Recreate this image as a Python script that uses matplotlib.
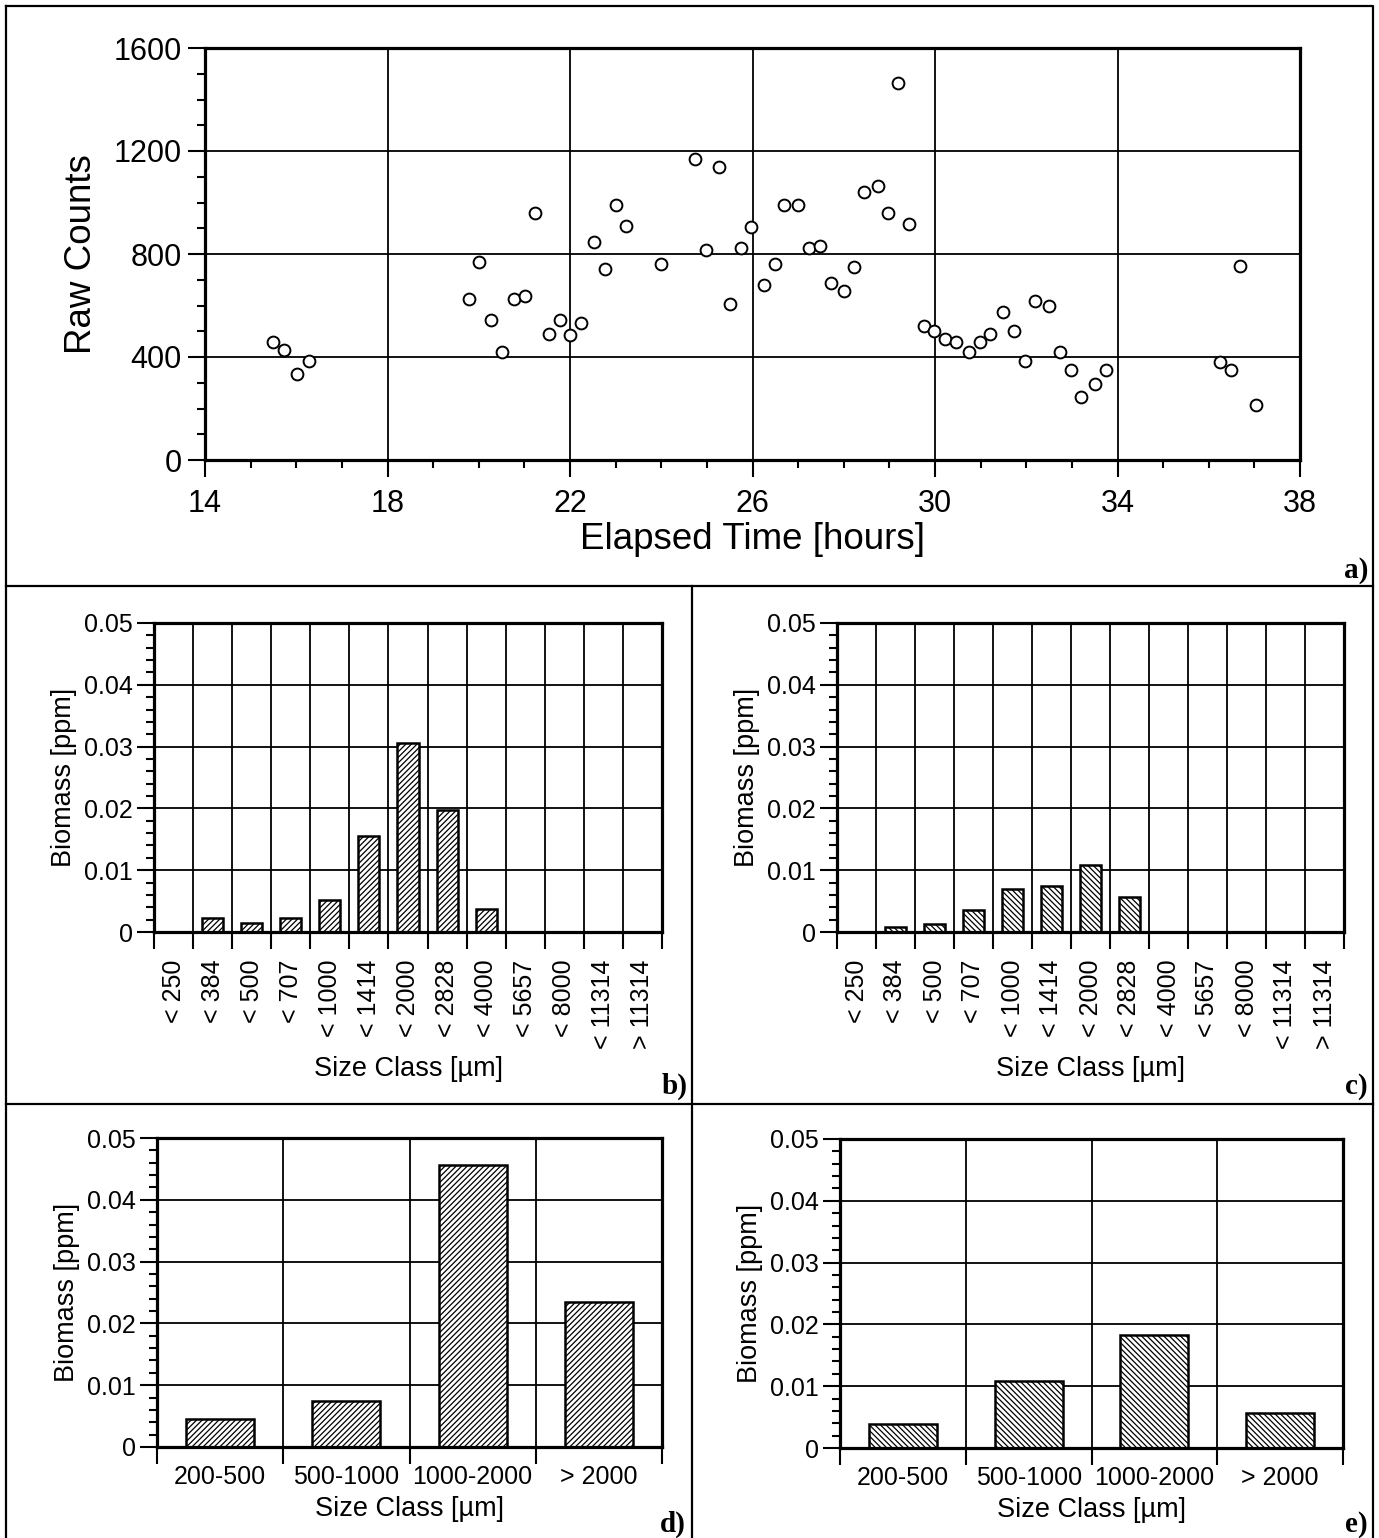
import matplotlib
matplotlib.use("Agg")
import matplotlib.pyplot as plt
from matplotlib.ticker import MultipleLocator
import numpy as np

# ─── Canvas ───────────────────────────────────────────────────────────────────
DPI = 100
W, H = 1379, 1538

plt.rcParams["font.family"] = ["Liberation Sans", "DejaVu Sans"]
plt.rcParams["hatch.linewidth"] = 0.9

# ─── Data: panel a (raw counts vs time) ───────────────────────────────────────
elapsed_h = [
    15.48, 15.73, 16.02, 16.27,
    19.78, 20.01, 20.26, 20.51, 20.77, 21.01, 21.24, 21.55, 21.78, 22.01,
    22.24, 22.53, 22.77, 23.00, 23.23, 24.00, 24.75, 24.98, 25.27, 25.51,
    25.74, 25.97, 26.25, 26.49, 26.70, 26.99, 27.23, 27.47, 27.71, 28.01,
    28.22, 28.45, 28.74, 28.97, 29.18, 29.44, 29.75, 29.98, 30.23, 30.47,
    30.75, 30.99, 31.21, 31.49, 31.73, 31.97, 32.20, 32.49, 32.74, 32.97,
    33.21, 33.50, 33.74, 36.25, 36.48, 36.69, 37.03,
]
raw_counts = [
    458, 428, 335, 386,
    625, 770, 542, 418, 626, 636, 958, 490, 544, 484,
    533, 845, 743, 990, 908, 762, 1168, 814, 1137, 604,
    824, 906, 680, 762, 991, 991, 824, 833, 688, 655,
    750, 1042, 1064, 958, 1463, 917, 521, 500, 470, 460,
    421, 460, 491, 576, 502, 386, 618, 597, 420, 348,
    244, 296, 348, 382, 350, 755, 215,
]
time_ticks = [14, 18, 22, 26, 30, 34, 38]
count_ticks = [0, 400, 800, 1200, 1600]

# ─── Data: panels b, c (fine size classes) ───────────────────────────────────
fine_classes = ["< 250", "< 384", "< 500", "< 707", "< 1000", "< 1414",
                "< 2000", "< 2828", "< 4000", "< 5657", "< 8000",
                "< 11314", "> 11314"]
biomass_b = [0.0, 0.0023, 0.0014, 0.0023, 0.0052, 0.0156, 0.0306,
             0.0197, 0.0038, 0.0, 0.0, 0.0, 0.0]
biomass_c = [0.0, 0.0008, 0.0013, 0.0036, 0.0070, 0.0074, 0.0108,
             0.0057, 0.0, 0.0, 0.0, 0.0, 0.0]

# ─── Data: panels d, e (coarse size classes) ─────────────────────────────────
coarse_classes = ["200-500", "500-1000", "1000-2000", "> 2000"]
biomass_d = [0.0045, 0.0074, 0.0457, 0.0234]
biomass_e = [0.0039, 0.0108, 0.0183, 0.0056]

biomass_ticks = [0, 0.01, 0.02, 0.03, 0.04, 0.05]
biomass_tick_labels = ["0", "0.01", "0.02", "0.03", "0.04", "0.05"]

# ─── Styles ───────────────────────────────────────────────────────────────────
SPINE_LW = 2.3
GRID_LW = 1.3
LETTER_FONT = dict(family=["Liberation Serif", "DejaVu Serif"],
                   fontweight="bold", fontsize=21)


def px_axes(fig, left, top, right, bottom):
    """Axes from pixel box (0,0 = top-left)."""
    return fig.add_axes([left / W, 1 - bottom / H,
                         (right - left) / W, (bottom - top) / H])


def style_spines(ax):
    for s in ax.spines.values():
        s.set_linewidth(SPINE_LW)
        s.set_zorder(5)


def bar_panel(ax, labels, values, hatch, rotate):
    n = len(labels)
    x = np.arange(n)
    ax.bar(x, values, width=0.54, facecolor="white", edgecolor="black",
           linewidth=1.8, hatch=hatch, zorder=3)
    ax.set_xlim(-0.5, n - 0.5)
    ax.set_ylim(0, 0.05)
    ax.yaxis.set_minor_locator(MultipleLocator(0.002))
    ax.set_yticks(biomass_ticks)
    ax.set_yticklabels(biomass_tick_labels)
    # boundaries carry the tick marks, centres carry the labels
    ax.set_xticks(np.arange(n + 1) - 0.5)
    ax.set_xticklabels([""] * (n + 1))
    ax.set_xticks(x, minor=True)
    if rotate:
        ax.set_xticklabels(labels, minor=True, rotation=90, va="top")
        ax.tick_params(axis="x", which="minor", length=0, pad=20)
    else:
        ax.set_xticklabels(labels, minor=True)
        ax.tick_params(axis="x", which="minor", length=0, pad=13)
    ax.tick_params(axis="x", which="major", length=12, width=1.5,
                   direction="out")
    ax.tick_params(axis="y", which="major", length=12, width=1.5,
                   direction="out", pad=3)
    ax.tick_params(axis="y", which="minor", length=6, width=1.5,
                   direction="out")
    ax.tick_params(axis="both", which="both", labelsize=18)
    ax.grid(True, which="major", color="black", linewidth=GRID_LW, zorder=1)
    ax.set_axisbelow(True)
    ax.set_ylabel("Biomass [ppm]", fontsize=19.5, labelpad=5)
    ax.set_xlabel("Size Class [µm]", fontsize=19.5, labelpad=5)
    style_spines(ax)


fig = plt.figure(figsize=(W / DPI, H / DPI), dpi=DPI)
fig.patch.set_facecolor("white")

# Background axes in pixel coordinates for frame lines and panel letters
bg = fig.add_axes([0, 0, 1, 1], zorder=-10)
bg.set_xlim(0, W)
bg.set_ylim(H, 0)
bg.axis("off")
frame = dict(color="black", linewidth=1.6)
bg.plot([6, 1373, 1373, 6, 6], [6, 6, H + 5, H + 5, 6], **frame)
bg.plot([6, 1373], [586, 586], **frame)
bg.plot([6, 1373], [1104, 1104], **frame)
bg.plot([692, 692], [586, H + 5], **frame)

bg.text(1368, 578, "a)", ha="right", va="baseline", **LETTER_FONT)
bg.text(688, 1094, "b)", ha="right", va="baseline", **LETTER_FONT)
bg.text(1368, 1094, "c)", ha="right", va="baseline", **LETTER_FONT)
bg.text(686, 1532, "d)", ha="right", va="baseline", **LETTER_FONT)
bg.text(1368, 1532, "e)", ha="right", va="baseline", **LETTER_FONT)

# ─── Panel a ─────────────────────────────────────────────────────────────────
ax_a = px_axes(fig, 205, 48, 1300, 460)
ax_a.plot(elapsed_h, raw_counts, linestyle="none", marker="o",
          markersize=8.5, markerfacecolor="white", markeredgecolor="black",
          markeredgewidth=1.4, zorder=4)
ax_a.set_xlim(14, 38)
ax_a.set_ylim(0, 1600)
ax_a.set_xticks(time_ticks)
ax_a.set_yticks(count_ticks)
ax_a.xaxis.set_minor_locator(MultipleLocator(1))
ax_a.yaxis.set_minor_locator(MultipleLocator(100))
ax_a.grid(True, which="major", color="black", linewidth=GRID_LW, zorder=1)
ax_a.set_axisbelow(True)
ax_a.tick_params(axis="both", which="major", length=12, width=1.5,
                 direction="out", labelsize=22)
ax_a.tick_params(axis="x", which="major", pad=9)
ax_a.tick_params(axis="y", which="major", pad=5)
ax_a.tick_params(axis="both", which="minor", length=6, width=1.5,
                 direction="out")
ax_a.set_xlabel("Elapsed Time [hours]", fontsize=26.5, labelpad=2)
ax_a.set_ylabel("Raw Counts", fontsize=26.5, labelpad=10)
style_spines(ax_a)

# ─── Panels b, c ─────────────────────────────────────────────────────────────
ax_b = px_axes(fig, 154, 623, 662, 932)
bar_panel(ax_b, fine_classes, biomass_b, "//////", rotate=True)

ax_c = px_axes(fig, 837, 623, 1344, 932)
bar_panel(ax_c, fine_classes, biomass_c, "\\\\\\\\\\\\", rotate=True)

# ─── Panels d, e ─────────────────────────────────────────────────────────────
ax_d = px_axes(fig, 157, 1138, 662, 1447)
bar_panel(ax_d, coarse_classes, biomass_d, "//////", rotate=False)

ax_e = px_axes(fig, 840, 1139, 1343, 1448)
bar_panel(ax_e, coarse_classes, biomass_e, "\\\\\\\\\\\\", rotate=False)

fig.savefig("out.png", dpi=DPI, facecolor="white")
